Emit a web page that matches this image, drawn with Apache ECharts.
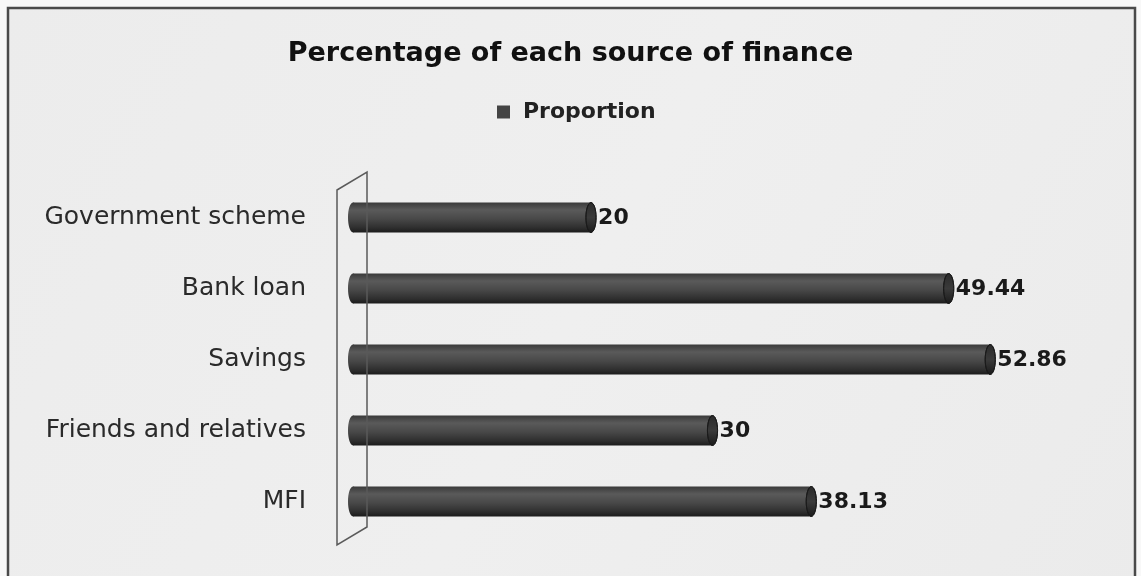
<!DOCTYPE html>
<html>
<head>
<meta charset="utf-8">
<script src="https://cdn.jsdelivr.net/npm/echarts@6/dist/echarts.min.js"></script>
<style>
  html, body { margin: 0; padding: 0; background: #f8f8f8; }
  #chart { width: 1141px; height: 576px; }
</style>
</head>
<body>
<div id="chart"></div>
<script>
// Sources of finance (bottom to top on the category axis) and their share in percent
const categories = ['MFI', 'Friends and relatives', 'Savings', 'Bank loan', 'Government scheme'];
const proportion = [38.13, 30, 52.86, 49.44, 20];
const seriesName = 'Proportion';
const titleText = 'Percentage of each source of finance';

const FONT = '"DejaVu Sans", "Open Sans", sans-serif';

const chart = echarts.init(document.getElementById('chart'), null, { renderer: 'canvas' });

// Cylinder-shaped horizontal bar: body with vertical shading, rounded start, darker end cap
function renderCylinder(params, api) {
  const val = api.value(0);
  const cat = api.value(1);
  const start = api.coord([0, cat]);
  const end = api.coord([val, cat]);
  const h = api.size([0, 1])[1] * 0.42;
  const cy = start[1];
  const y = cy - h / 2;
  const rx = h * 0.17;

  const bodyFill = new echarts.graphic.LinearGradient(0, 0, 0, 1, [
    { offset: 0, color: '#3a3a3a' },
    { offset: 0.25, color: '#5a5a5a' },
    { offset: 0.55, color: '#484848' },
    { offset: 0.85, color: '#2e2e2e' },
    { offset: 1, color: '#1c1c1c' }
  ]);
  const capFill = new echarts.graphic.LinearGradient(0, 0, 0, 1, [
    { offset: 0, color: '#2a2a2a' },
    { offset: 0.5, color: '#3a3a3a' },
    { offset: 1, color: '#1a1a1a' }
  ]);

  return {
    type: 'group',
    children: [
      { type: 'ellipse', shape: { cx: start[0] + rx, cy: cy, rx: rx, ry: h / 2 }, style: { fill: bodyFill } },
      { type: 'rect', shape: { x: start[0] + rx, y: y, width: end[0] - start[0] - rx, height: h }, style: { fill: bodyFill } },
      { type: 'ellipse', shape: { cx: end[0], cy: cy, rx: rx, ry: h / 2 }, style: { fill: capFill, stroke: '#1a1a1a', lineWidth: 1 } },
      {
        type: 'text',
        style: {
          x: end[0] + rx + 2, y: cy + 1,
          text: String(val),
          fill: '#1a1a1a',
          font: 'bold 22px ' + FONT,
          verticalAlign: 'middle', align: 'left'
        }
      }
    ]
  };
}

const option = {
  animation: false,
  backgroundColor: 'transparent',
  title: {
    text: titleText,
    left: 'center',
    top: 35,
    textStyle: { fontFamily: FONT, fontSize: 27, fontWeight: 'bold', color: '#111' }
  },
  legend: {
    data: [seriesName],
    left: 497,
    top: 101,
    padding: 0,
    icon: 'rect',
    itemWidth: 13,
    itemHeight: 13,
    textStyle: { fontFamily: FONT, fontSize: 22, fontWeight: 'bold', color: '#222', padding: [0, 0, 0, 8] }
  },
  grid: { left: 348, right: 64, top: 182, bottom: 39 },
  xAxis: {
    type: 'value',
    min: 0,
    max: 60,
    show: false
  },
  yAxis: {
    type: 'category',
    data: categories,
    axisLine: { show: false },
    axisTick: { show: false },
    axisLabel: { margin: 42, fontFamily: FONT, fontSize: 25, color: '#2a2a2a' }
  },
  series: [{
    name: seriesName,
    type: 'custom',
    renderItem: renderCylinder,
    itemStyle: { color: '#444' },
    encode: { x: 0, y: 1 },
    data: proportion.map((v, i) => [v, i]),
    z: 2
  }]
};

chart.setOption(option);

// Frame and the 3D back wall next to the category axis, placed from the grid's own coordinates
const x0 = chart.convertToPixel({ gridIndex: 0 }, [0, 0])[0];
const gridTop = 182, gridBottom = 576 - 39;
chart.setOption({
  graphic: [
    {
      type: 'rect', z: -10, silent: true,
      shape: { x: 8, y: 8, width: 1127, height: 620 },
      style: {
        fill: new echarts.graphic.LinearGradient(0, 0, 1, 1, [
          { offset: 0, color: '#ececec' },
          { offset: 0.5, color: '#efefef' },
          { offset: 1, color: '#ebebeb' }
        ]),
        stroke: '#4a4a4a', lineWidth: 2.5
      }
    },
    {
      type: 'polygon', z: 100, silent: true,
      shape: {
        points: [
          [x0 - 11, gridTop + 8], [x0 + 19, gridTop - 10],
          [x0 + 19, gridBottom - 10], [x0 - 11, gridBottom + 8]
        ]
      },
      style: { fill: 'none', stroke: '#5a5a5a', lineWidth: 1.5 }
    }
  ]
});
</script>
</body>
</html>
